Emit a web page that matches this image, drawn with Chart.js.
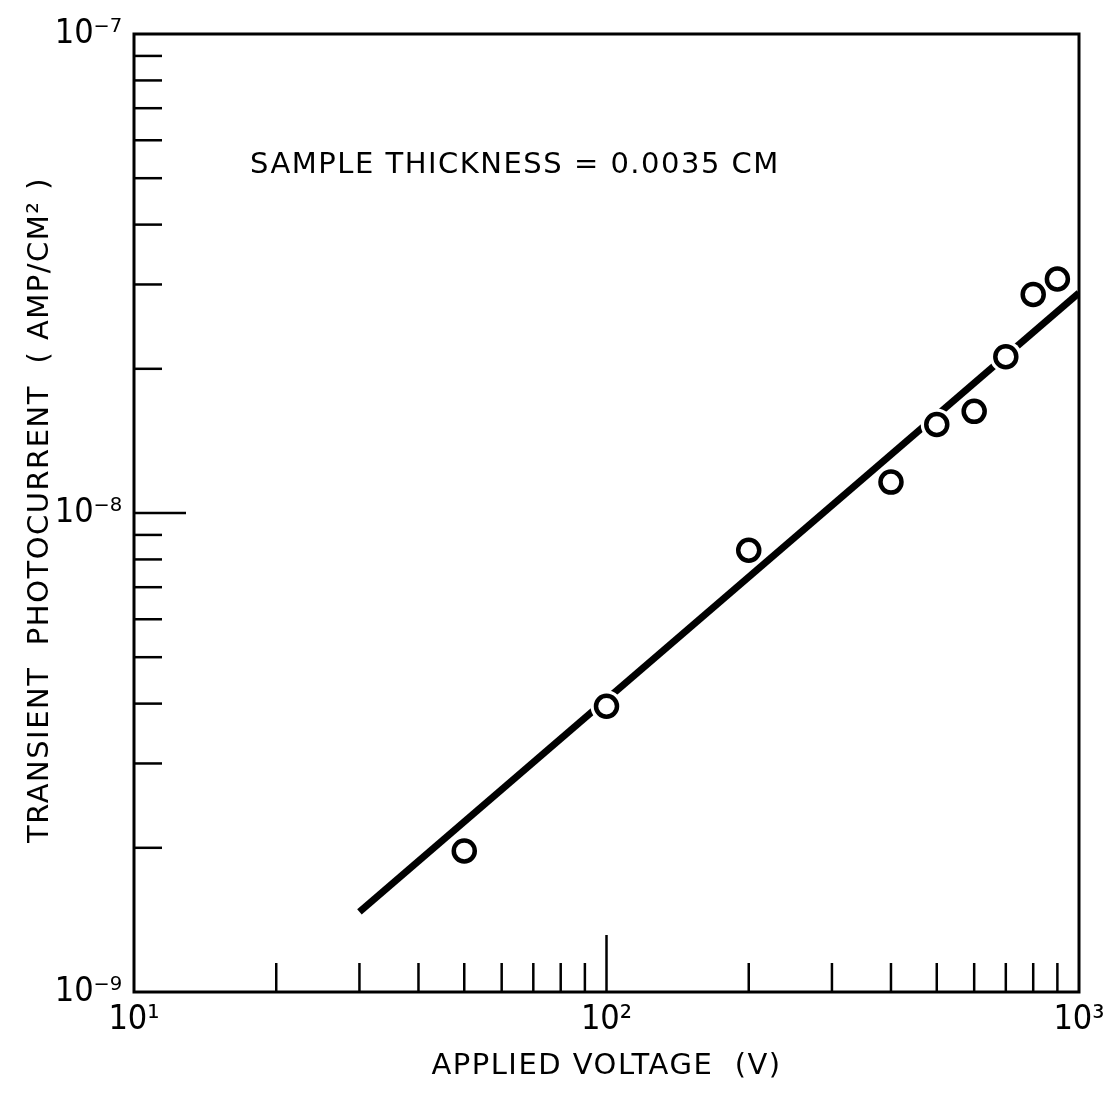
<!DOCTYPE html>
<html>
<head>
<meta charset="utf-8">
<script src="https://cdn.jsdelivr.net/npm/chart.js@4.4.1/dist/chart.umd.min.js"></script>
<style>
  html, body { margin: 0; padding: 0; background: #fff; }
</style>
</head>
<body>
<canvas id="photoChart" width="1115" height="1093"></canvas>
<script>
// measured points (V, A/cm^2)
const voltage = [50, 100, 200, 400, 500, 600, 700, 800, 900];
const photocurrent = [1.97e-9, 3.95e-9, 8.36e-9, 1.16e-8, 1.53e-8, 1.63e-8, 2.12e-8, 2.86e-8, 3.08e-8];

// fitted straight line
const fitVoltage = [30, 1000];
const fitCurrent = [1.47e-9, 2.88e-8];

// axis ticks
const xDecades = [10, 100, 1000];
const yDecades = [1e-9, 1e-8, 1e-7];
const xMinorTicks = [20, 30, 40, 50, 60, 70, 80, 90, 200, 300, 400, 500, 600, 700, 800, 900];
const yMinorTicks = [2e-9, 3e-9, 4e-9, 5e-9, 6e-9, 7e-9, 8e-9, 9e-9, 2e-8, 3e-8, 4e-8, 5e-8, 6e-8, 7e-8, 8e-8, 9e-8];
const xInnerMajor = [100];
const yInnerMajor = [1e-8];

const noteText = "SAMPLE THICKNESS = 0.0035 CM";
const xTitle = "APPLIED VOLTAGE  (V)";
const yTitle = "TRANSIENT  PHOTOCURRENT  ( AMP/CM\u00B2 )";

const supDigits = { "0": "\u2070", "1": "\u00B9", "2": "\u00B2", "3": "\u00B3", "4": "\u2074", "5": "\u2075", "6": "\u2076", "7": "\u2077", "8": "\u2078", "9": "\u2079", "-": "\u207B" };
const powLabel = (v) => {
  const e = String(Math.round(Math.log10(v)));
  return "10" + e.split("").map((c) => supDigits[c]).join("");
};

const FONT = "'DejaVu Sans', sans-serif";
const TICK_FONT = "'DejaVu Sans Condensed', 'DejaVu Sans', sans-serif";

// frame, inward tick marks, axis titles and the note
const frameTicks = {
  id: "frameTicks",
  afterDatasetsDraw(chart) {
    const { ctx, chartArea: a, scales: { x, y } } = chart;
    ctx.save();
    ctx.strokeStyle = "#000";
    ctx.lineCap = "butt";

    ctx.lineWidth = 2.5;
    xMinorTicks.forEach((v) => {
      const px = x.getPixelForValue(v);
      ctx.beginPath(); ctx.moveTo(px, a.bottom); ctx.lineTo(px, a.bottom - 29); ctx.stroke();
    });
    xInnerMajor.forEach((v) => {
      const px = x.getPixelForValue(v);
      ctx.beginPath(); ctx.moveTo(px, a.bottom); ctx.lineTo(px, a.bottom - 57); ctx.stroke();
    });
    yMinorTicks.forEach((v) => {
      const py = y.getPixelForValue(v);
      ctx.beginPath(); ctx.moveTo(a.left, py); ctx.lineTo(a.left + 28, py); ctx.stroke();
    });
    yInnerMajor.forEach((v) => {
      const py = y.getPixelForValue(v);
      ctx.beginPath(); ctx.moveTo(a.left, py); ctx.lineTo(a.left + 52, py); ctx.stroke();
    });

    ctx.lineWidth = 3;
    ctx.strokeRect(a.left, a.top, a.right - a.left, a.bottom - a.top);

    ctx.fillStyle = "#000";
    ctx.font = "29px " + FONT;
    ctx.letterSpacing = "1.5px";
    ctx.textBaseline = "middle";

    ctx.textAlign = "left";
    ctx.fillText(noteText, a.left + 116, a.top + 131);

    ctx.textAlign = "center";
    ctx.fillText(xTitle, (a.left + a.right) / 2, 1066);

    ctx.translate(40, (a.top + a.bottom) / 2 - 3);
    ctx.rotate(-Math.PI / 2);
    ctx.fillText(yTitle, 0, 0);
    ctx.restore();
  }
};

new Chart(document.getElementById("photoChart"), {
  type: "scatter",
  data: {
    datasets: [
      {
        label: "points",
        data: voltage.map((v, i) => ({ x: v, y: photocurrent[i] })),
        pointRadius: 10.5,
        pointBorderWidth: 4.5,
        pointBorderColor: "#000",
        pointBackgroundColor: "#fff",
        order: 1,
      },
      {
        label: "halo",
        data: voltage.map((v, i) => ({ x: v, y: photocurrent[i] })),
        pointRadius: 16,
        pointBorderWidth: 0,
        pointBorderColor: "#fff",
        pointBackgroundColor: "#fff",
        order: 2,
      },
      {
        label: "fit",
        type: "line",
        data: fitVoltage.map((v, i) => ({ x: v, y: fitCurrent[i] })),
        borderColor: "#000",
        borderWidth: 7,
        pointRadius: 0,
        fill: false,
        order: 3,
      },
    ],
  },
  options: {
    responsive: false,
    animation: false,
    layout: { padding: { top: 34, right: 36, left: 0, bottom: 0 } },
    plugins: { legend: { display: false }, tooltip: { enabled: false } },
    scales: {
      x: {
        type: "logarithmic",
        min: 10,
        max: 1000,
        afterBuildTicks: (s) => { s.ticks = xDecades.map((v) => ({ value: v })); },
        afterFit: (s) => { s.height = 101; },
        grid: { display: false, drawTicks: false },
        border: { display: false },
        ticks: {
          callback: (v) => powLabel(v),
          color: "#000",
          font: { family: TICK_FONT, size: 34 },
          padding: 8,
          maxRotation: 0,
        },
      },
      y: {
        type: "logarithmic",
        min: 1e-9,
        max: 1e-7,
        afterBuildTicks: (s) => { s.ticks = yDecades.map((v) => ({ value: v })); },
        afterFit: (s) => { s.width = 134; },
        grid: { display: false, drawTicks: false },
        border: { display: false },
        ticks: {
          callback: (v) => powLabel(v),
          color: "#000",
          font: { family: TICK_FONT, size: 34 },
          padding: 12,
        },
      },
    },
  },
  plugins: [frameTicks],
});
</script>
</body>
</html>
